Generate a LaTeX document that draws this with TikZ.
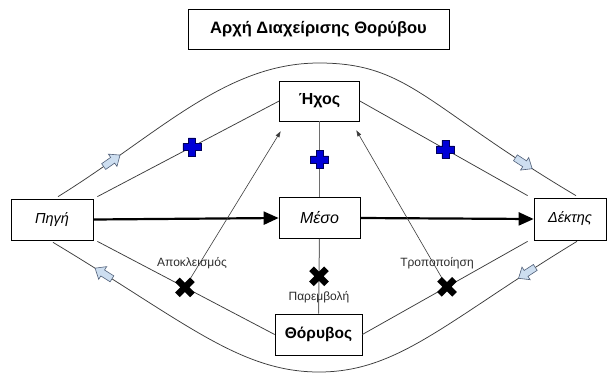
\documentclass[tikz,border=0pt]{standalone}
\usepackage{fontspec}
\setmainfont{Liberation Sans}
\usetikzlibrary{arrows.meta,calc}

\definecolor{linegray}{RGB}{60,60,60}
\definecolor{stemgray}{RGB}{110,110,110}
\definecolor{plusblue}{RGB}{0,0,215}
\definecolor{plusedge}{RGB}{0,0,90}
\definecolor{flowfill}{RGB}{205,222,240}
\definecolor{flowedge}{RGB}{80,95,120}
\definecolor{labelgray}{RGB}{45,45,45}

\tikzset{
  box/.style={draw=black, line width=0.7pt, fill=white, inner sep=0pt, align=center},
  thinlink/.style={draw=linegray, line width=0.75pt},
  stem/.style={draw=stemgray, line width=1pt},
  flow/.style={draw=black, line width=2.2pt, -{Triangle[length=15pt,width=13pt]}},
  effect/.style={draw=linegray, line width=0.6pt, -{Triangle[length=6pt,width=4pt]}},
  lbl/.style={font=\fontsize{12}{13}\selectfont, text=labelgray},
  % hollow direction arrow sitting on the outer loops
  flowmark/.pic={\path[fill=flowfill, draw=flowedge, line width=0.6pt]
    (-10,-3.5) -- (1,-3.5) -- (1,-7.5) -- (10,0) -- (1,7.5) -- (1,3.5)
    -- (-10,3.5) -- cycle;},
  plussign/.pic={\path[fill=plusblue, draw=plusedge, line width=0.5pt]
    (-3.5,-9) -- (3.5,-9) -- (3.5,-3.5) -- (9,-3.5) -- (9,3.5) -- (3.5,3.5)
    -- (3.5,9) -- (-3.5,9) -- (-3.5,3.5) -- (-9,3.5) -- (-9,-3.5)
    -- (-3.5,-3.5) -- cycle;},
  blocksign/.pic={\draw[black, line width=6.5pt] (-7.5,-7.5) -- (7.5,7.5) (-7.5,7.5) -- (7.5,-7.5);},
  onloop/.style={sloped, allow upside down},
}

\begin{document}
\begin{tikzpicture}[x=1pt,y=-1pt]
  \useasboundingbox[fill=white] (0,0) rectangle (608,376);

  % boxes
  \node[box, minimum width=261pt, minimum height=40pt,
        font=\bfseries\fontsize{16.5}{18}\selectfont] (title) at (318.5,29) {Αρχή Διαχείρισης Θορύβου};
  \node[box, minimum width=80pt, minimum height=40pt,
        font=\bfseries\fontsize{16}{18}\selectfont] (ichos) at (319.5,101) {Ήχος};
  \node[box, minimum width=81pt, minimum height=41pt,
        font=\itshape\fontsize{16}{18}\selectfont] (meso) at (319.5,218) {Μέσο};
  \node[box, minimum width=82pt, minimum height=41pt,
        font=\itshape\fontsize{14.5}{17}\selectfont] (pigi) at (52,219.5) {Πηγή};
  \node[box, minimum width=72pt, minimum height=42pt,
        font=\itshape\fontsize{14.5}{17}\selectfont] (dektis) at (570,219) {Δέκτης};
  \node[box, minimum width=87pt, minimum height=41pt,
        font=\bfseries\fontsize{15.5}{18}\selectfont] (thoryvos) at (318.5,334.5) {Θόρυβος};

  % crests of the two outer loops
  \coordinate (topcrest) at (319,63);
  \coordinate (basecrest) at (319,372);

  % outer loop, source to receiver over the top
  \draw[thinlink] ($(pigi.north)+(6,-2)$)
      .. controls +(100,-62) and +(-94,0) .. (topcrest)
      pic[onloop, pos=0.19] {flowmark}
      .. controls +(90,0) and +(-150,-89) .. ($(dektis.north)+(6,-2)$)
      pic[onloop, pos=0.87] {flowmark};

  % outer loop, receiver back to source underneath
  \draw[thinlink] ($(dektis.south)+(7,1)$)
      .. controls +(-130,79) and +(80,0) .. (basecrest)
      pic[onloop, pos=0.14] {flowmark}
      .. controls +(-80,0) and +(130,78) .. ($(pigi.south)+(1,2)$)
      pic[onloop, pos=0.86] {flowmark};

  % inner links to sound and noise
  \draw[thinlink] ($(pigi.north east)+(4,-2)$) -- (ichos.west) coordinate[pos=0.52] (plusL);
  \draw[thinlink] (ichos.east) -- ($(dektis.north west)+(-6,-2)$) coordinate[pos=0.51] (plusR);
  \draw[thinlink] ($(pigi.south east)+(4,1)$) -- (thoryvos.west) coordinate[pos=0.494] (stopL);
  \draw[thinlink] (thoryvos.east) -- ($(dektis.south west)+(-6,1)$) coordinate[pos=0.512] (stopR);

  % central stems
  \draw[stem] (ichos.south) -- (meso.north) coordinate[pos=0.5] (plusM);
  \draw[stem] (meso.south) -- (thoryvos.north) coordinate[pos=0.5] (stopM);

  % main transmission path
  \draw[flow] (pigi.east) -- (meso.west);
  \draw[flow] (meso.east) -- (dektis.west);

  % noise-control actions acting on the sound
  \coordinate (tipL) at ($(ichos.south west)+(1.5,10)$);
  \coordinate (tipR) at ($(ichos.south east)+(-3.5,9)$);
  \draw[effect] (stopL) -- (tipL);
  \draw[effect] (stopR) -- (tipR);

  % labels
  \node[lbl] (lblA) at (192,263) {Αποκλεισμός};
  \node[lbl] (lblB) at (319,297) {Παρεμβολή};
  \node[lbl] (lblC) at (437,263) {Τροποποίηση};

  % markers
  \pic at (plusL) {plussign};
  \pic at (plusR) {plussign};
  \pic at (plusM) {plussign};
  \pic at (stopL) {blocksign};
  \pic at (stopR) {blocksign};
  \pic at (stopM) {blocksign};
\end{tikzpicture}
\end{document}
